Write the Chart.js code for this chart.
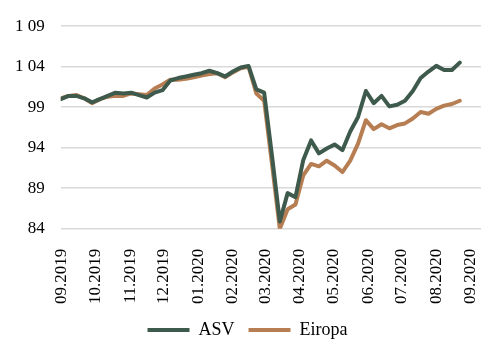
<!DOCTYPE html>
<html>
<head>
<meta charset="utf-8">
<script src="https://cdn.jsdelivr.net/npm/chart.js@4/dist/chart.umd.min.js"></script>
<style>
  html, body { margin: 0; padding: 0; background: #fff; }
  #wrap { width: 503px; height: 361px; }
</style>
</head>
<body>
<div id="wrap"><canvas id="lineChart" width="503" height="361"></canvas></div>
<script>
// weekly points, first one on 31.08.2019
const startDate = new Date(2019, 7, 31);
const asv = [
  100.0, 100.4, 100.4, 100.1, 99.6, 100.0, 100.4, 100.8, 100.7, 100.8,
  100.5, 100.2, 100.8, 101.1, 102.3, 102.6, 102.8, 103.0, 103.2, 103.5,
  103.2, 102.8, 103.4, 103.9, 104.1, 101.2, 100.8, 93.0, 84.9, 88.4,
  87.9, 92.5, 94.9, 93.3, 93.9, 94.4, 93.7, 96.0, 97.8, 101.0,
  99.5, 100.4, 99.1, 99.3, 99.8, 101.0, 102.6, 103.4, 104.1, 103.6,
  103.6, 104.5
];
const eiropa = [
  100.1, 100.4, 100.5, 100.1, 99.5, 100.0, 100.3, 100.4, 100.4, 100.7,
  100.6, 100.5, 101.3, 101.8, 102.4, 102.4, 102.5, 102.7, 102.9, 103.1,
  103.2, 102.7, 103.3, 103.8, 104.0, 100.7, 99.8, 92.0, 84.0, 86.4,
  87.0, 90.6, 92.0, 91.7, 92.4, 91.8, 91.0, 92.4, 94.5, 97.4,
  96.3, 96.9, 96.4, 96.8, 97.0, 97.6, 98.4, 98.2, 98.8, 99.2,
  99.4, 99.8
];
const monthLabels = [
  "09.2019", "10.2019", "11.2019", "12.2019", "01.2020", "02.2020", "03.2020",
  "04.2020", "05.2020", "06.2020", "07.2020", "08.2020", "09.2020"
];
const yTicks = [84, 89, 94, 99, 104, 109];
const yTickLabels = ["84", "89", "94", "99", "1 04", "1 09"];

const DAY = 24 * 3600 * 1000;
function dayOf(d) { return Math.round((d - startDate) / DAY); }
function monthDay(label) {
  const [m, y] = label.split(".");
  return dayOf(new Date(+y, +m - 1, 1));
}
const monthDays = monthLabels.map(monthDay);
const toPoints = (arr) => arr.map((v, i) => ({ x: i * 7, y: v }));

const font = { family: "'Liberation Serif', 'Times New Roman', serif", size: 17 };

const ctx = document.getElementById("lineChart").getContext("2d");
new Chart(ctx, {
  type: "line",
  data: {
    datasets: [
      {
        label: "ASV",
        data: toPoints(asv),
        borderColor: "#3e5a4c",
        backgroundColor: "#3e5a4c",
        borderWidth: 4,
        pointRadius: 0,
        pointStyle: "line",
        tension: 0,
        borderCapStyle: "round",
        borderJoinStyle: "round",
      },
      {
        label: "Eiropa",
        data: toPoints(eiropa),
        borderColor: "#b67e52",
        backgroundColor: "#b67e52",
        borderWidth: 4,
        pointRadius: 0,
        pointStyle: "line",
        tension: 0,
        borderCapStyle: "round",
        borderJoinStyle: "round",
      },
    ],
  },
  options: {
    responsive: false,
    animation: false,
    layout: { padding: { left: 14, right: 22, top: 10, bottom: 12 } },
    plugins: {
      tooltip: { enabled: false },
      legend: {
        display: true,
        position: "bottom",
        labels: {
          usePointStyle: true,
          pointStyleWidth: 42,
          color: "#000",
          font: { family: font.family, size: 18 },
          padding: 14,
        },
      },
    },
    scales: {
      x: {
        type: "linear",
        min: 0,
        max: 376,
        afterBuildTicks: (scale) => {
          scale.ticks = monthDays.map((v) => ({ value: v }));
        },
        afterFit: (scale) => {
          scale.paddingLeft = 0;
          scale.paddingRight = 0;
          scale.height -= 9;
        },
        grid: { display: false },
        border: { display: false },
        ticks: {
          autoSkip: false,
          minRotation: 90,
          maxRotation: 90,
          padding: 12,
          color: "#000",
          font: font,
          callback: (value, index) => monthLabels[index],
        },
      },
      y: {
        min: 84,
        max: 109,
        afterBuildTicks: (scale) => {
          scale.ticks = yTicks.map((v) => ({ value: v }));
        },
        afterFit: (scale) => {
          scale.width -= 15;
        },
        grid: { color: "#d9d9d9", lineWidth: 1.5, drawTicks: false },
        border: { display: false },
        ticks: {
          padding: 16,
          color: "#000",
          font: font,
          callback: (value) => yTickLabels[yTicks.indexOf(value)],
        },
      },
    },
  },
});
</script>
</body>
</html>
